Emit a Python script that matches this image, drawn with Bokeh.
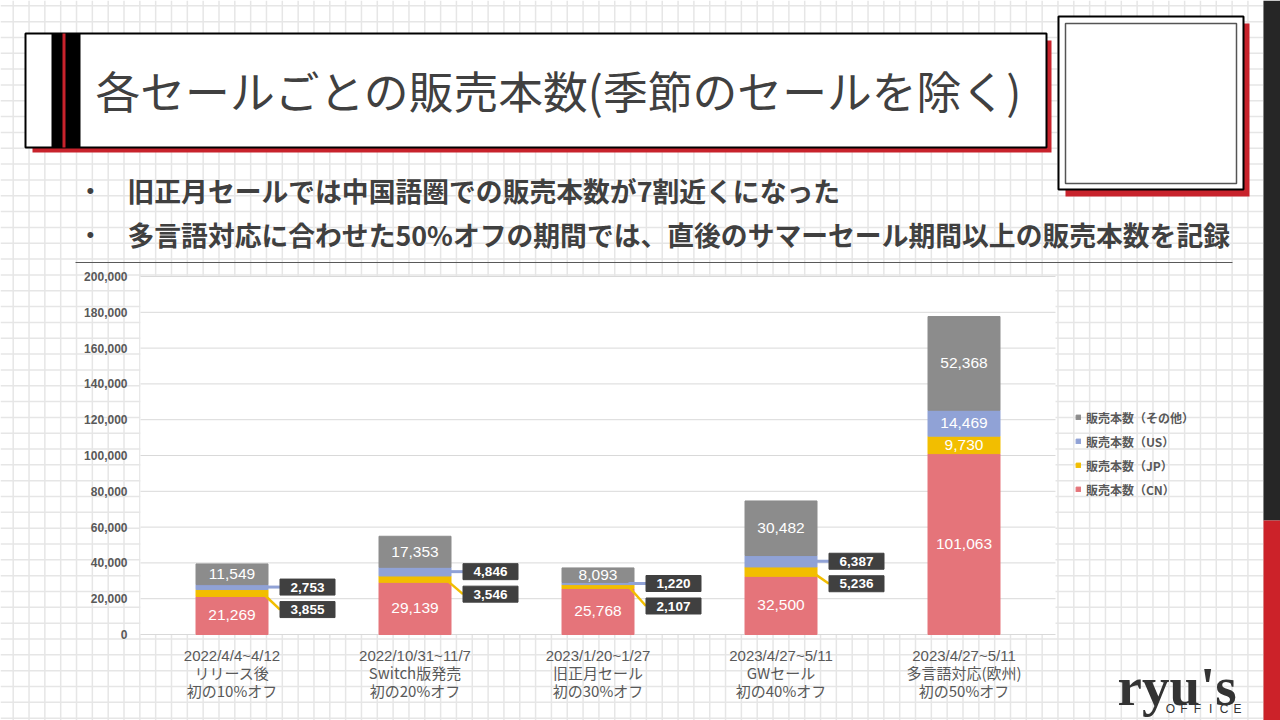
import numpy as np
from bokeh.plotting import figure
from bokeh.models import Range1d, ColumnDataSource, Legend, LegendItem
from bokeh.core.properties import value
from bokeh.embed import file_html
from bokeh.resources import INLINE

# ---------------- data ----------------
period_labels = ["2022/4/4~4/12", "2022/10/31~11/7", "2023/1/20~1/27",
                 "2023/4/27~5/11", "2023/4/27~5/11"]
event_labels = ["リリース後", "Switch版発売", "旧正月セール", "GWセール", "多言語対応(欧州)"]
discount_labels = ["初の10%オフ", "初の20%オフ", "初の30%オフ", "初の40%オフ", "初の50%オフ"]
sales_cn = [21269, 29139, 25768, 32500, 101063]
sales_jp = [3855, 3546, 2107, 5236, 9730]
sales_us = [2753, 4846, 1220, 6387, 14469]
sales_other = [11549, 17353, 8093, 30482, 52368]
series_names = ["販売本数（CN）", "販売本数（JP）", "販売本数（US）", "販売本数（その他）"]
series_colors = ["#E5747A", "#F2BE00", "#90A2D6", "#8C8C8C"]
y_ticks = [0, 20000, 40000, 60000, 80000, 100000, 120000, 140000, 160000, 180000, 200000]
title_text = "各セールごとの販売本数(季節のセールを除く)"
bullet_texts = ["旧正月セールでは中国語圏での販売本数が7割近くになった",
                "多言語対応に合わせた50%オフの期間では、直後のサマーセール期間以上の販売本数を記録"]

# ---------------- layout (page pixel coordinates) ----------------
W, H = 1280, 720
PX0, PX1, PY0, PY1 = 0, 1280, 0, 720
PLOT_L, PLOT_R, Y0_PX, YTOP_PX = 140, 1055, 634, 276
Y_MAX = 200000
n = len(sales_cn)
px_per_cat = (PLOT_R - PLOT_L) / n
val_per_px = Y_MAX / (Y0_PX - YTOP_PX)
x_start = -0.5 - (PLOT_L - PX0) / px_per_cat
x_end = n - 0.5 + (PX1 - PLOT_R) / px_per_cat
y_start = -(PY1 - Y0_PX) * val_per_px
y_end = Y_MAX + (YTOP_PX - PY0) * val_per_px

JP_FONT = value("Noto Sans CJK JP")
NUM_FONT = value("Liberation Sans")
RED = "#C8232C"

p = figure(width=W, height=H, x_range=Range1d(x_start, x_end), y_range=Range1d(y_start, y_end),
           output_backend="svg", toolbar_location=None, x_axis_type=None, y_axis_type=None,
           min_border=0, min_border_left=0, min_border_right=0, min_border_top=0, min_border_bottom=0)
p.extra_x_ranges = {"px": Range1d(PX0, PX1)}
p.extra_y_ranges = {"py": Range1d(PY1, PY0)}
p.outline_line_color = None
p.background_fill_color = "white"
p.border_fill_color = "white"
D = dict(x_range_name="px", y_range_name="py")

# graph-paper background
vx = np.arange(12.7, PX1, 15.83)
hy = np.arange(5.3, PY1, 15.83)
p.segment(x0=vx, y0=PY0, x1=vx, y1=PY1, line_color="#e6e6e6", line_width=1.5, **D)
p.segment(x0=PX0, y0=hy, x1=PX1, y1=hy, line_color="#e6e6e6", line_width=1.5, **D)

# right edge bar
p.quad(left=1263, right=1280, top=PY0, bottom=520, fill_color="#262626", line_color=None, **D)
p.quad(left=1263, right=1280, top=520, bottom=PY1, fill_color="#CC2229", line_color=None, **D)

# title box
p.quad(left=32, right=1051, top=40, bottom=152, fill_color=RED, line_color=None, **D)
p.quad(left=25, right=1046, top=33, bottom=147, fill_color="white", line_color="black", line_width=2, **D)
p.quad(left=51, right=80, top=33, bottom=147, fill_color="black", line_color=None, **D)
p.quad(left=62, right=65, top=33, bottom=147, fill_color=RED, line_color=None, **D)
p.text(x=[95], y=[89], text=[title_text], text_font=JP_FONT, text_font_size="44.8px",
       text_color="#404040", text_align="left", text_baseline="middle", **D)

# square box at top right
p.quad(left=1065, right=1249, top=23, bottom=196, fill_color=RED, line_color=None, **D)
p.quad(left=1058, right=1243, top=16, bottom=189, fill_color="white", line_color="black", line_width=2, **D)
p.quad(left=1065, right=1236, top=23, bottom=183, fill_color=None, line_color="#555555", line_width=1.5, **D)

# bullets
p.text(x=[86, 86], y=[190, 234], text=["•", "•"], text_font=NUM_FONT, text_font_size="22px",
       text_color="#404040", text_align="left", text_baseline="middle", **D)
p.text(x=[127, 127], y=[190, 234], text=bullet_texts, text_font=JP_FONT, text_font_size="26.8px",
       text_font_style="bold", text_color="#404040", text_align="left", text_baseline="middle", **D)
p.segment(x0=[75], y0=[262], x1=[1232], y1=[262], line_color="#595959", line_width=1, **D)

# chart area
p.quad(left=-0.5, right=n - 0.5, bottom=0, top=Y_MAX, fill_color="white", line_color=None)
p.segment(x0=-0.5, y0=y_ticks, x1=n - 0.5, y1=y_ticks, line_color="#d9d9d9", line_width=1)
p.text(x=-0.5, y=y_ticks, text=[f"{t:,}" for t in y_ticks], x_offset=-13, text_font=NUM_FONT,
       text_font_size="12px", text_font_style="bold", text_color="#595959",
       text_align="right", text_baseline="middle")

idx = list(range(n))
src = ColumnDataSource(dict(x=idx, cn=sales_cn, jp=sales_jp, us=sales_us, other=sales_other))
BAR_W = 72 / px_per_cat
bars = p.vbar_stack(["cn", "jp", "us", "other"], x="x", width=BAR_W, color=series_colors, source=src)

# data labels
series = [sales_cn, sales_jp, sales_us, sales_other]
in_x, in_y, in_t = [], [], []
box_x, box_y, box_t = [], [], []
ln_x0, ln_y0, ln_x1, ln_y1, ln_c, ln_w = [], [], [], [], [], []
GAP = 12 / px_per_cat
BOX_W = 55 / px_per_cat
STEP = 22.5 * val_per_px
for i in idx:
    bottoms = np.cumsum([0] + [s[i] for s in series[:-1]])
    small = []
    for k, s in enumerate(series):
        v = s[i]
        mid = bottoms[k] + v / 2
        if v >= 8000:
            in_x.append(i); in_y.append(mid); in_t.append(f"{v:,}")
        else:
            small.append((k, v, mid))
    small = small[::-1]
    if small:
        top_mid = small[0][2]
        bx_left = i + BAR_W / 2 + GAP
        for j, (k, v, mid) in enumerate(small):
            by = top_mid - j * STEP
            box_x.append(bx_left + BOX_W / 2); box_y.append(by); box_t.append(f"{v:,}")
            ln_x0.append(i + BAR_W / 2 - 0.03); ln_y0.append(mid)
            ln_x1.append(bx_left); ln_y1.append(by)
            ln_c.append(series_colors[k]); ln_w.append(3 if j == 0 else 2.5)

p.text(x=in_x, y=in_y, text=in_t, text_font=NUM_FONT, text_font_size="15.5px", text_color="white",
       text_align="center", text_baseline="middle")
p.segment(x0=ln_x0, y0=ln_y0, x1=ln_x1, y1=ln_y1, line_color=ln_c, line_width=ln_w)
p.rect(x=box_x, y=box_y, width=BOX_W, height=16, height_units="screen", fill_color="#404040",
       line_color="#404040")
p.text(x=box_x, y=box_y, text=box_t, text_font=NUM_FONT, text_font_size="13.5px", text_font_style="bold",
       text_color="white", text_align="center", text_baseline="middle")

# category labels
p.text(x=idx, y=[655] * n, text=period_labels, y_range_name="py", text_font=NUM_FONT, text_font_size="15px",
       text_color="#595959", text_align="center", text_baseline="middle")
p.text(x=idx, y=[672] * n, text=event_labels, y_range_name="py", text_font=JP_FONT, text_font_size="15px",
       text_color="#595959", text_align="center", text_baseline="middle")
p.text(x=idx, y=[690] * n, text=discount_labels, y_range_name="py", text_font=JP_FONT, text_font_size="15px",
       text_color="#595959", text_align="center", text_baseline="middle")

# legend
items = [LegendItem(label=series_names[k], renderers=[bars[k]]) for k in [3, 2, 1, 0]]
legend = Legend(items=items, location=(1075, 221), orientation="vertical", glyph_width=6, glyph_height=6,
                label_standoff=5, spacing=4, padding=0, margin=0, label_height=20,
                border_line_color=None, background_fill_alpha=0,
                label_text_font="Noto Sans CJK JP", label_text_font_style="bold",
                label_text_font_size="12px", label_text_color="#595959")
p.add_layout(legend)

# logo
p.text(x=[1117], y=[686], text=["ryu's"], text_font=value("Liberation Serif"), text_font_size="55px",
       text_font_style="bold", text_color="#333333", text_align="left", text_baseline="alphabetic", **D)
office = ["O", "F", "F", "I", "C", "E"]
p.text(x=[1170 + 13.4 * k for k in range(6)], y=[708] * 6, text=office, text_font=NUM_FONT,
       text_font_size="12px", text_color="#333333", text_align="center", text_baseline="middle", **D)

open("out.html", "w", encoding="utf-8").write(file_html(p, INLINE))
